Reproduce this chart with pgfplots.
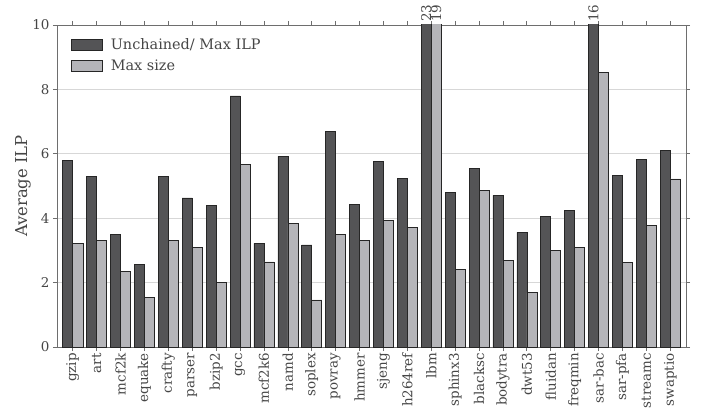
\documentclass[border=0pt]{standalone}
\usepackage{fontspec}
\setmainfont{DejaVu Serif}
\usepackage{pgfplots}
\pgfplotsset{compat=1.18}
\definecolor{darkbar}{RGB}{84,84,86}
\definecolor{lightbar}{RGB}{181,181,185}
\definecolor{axgray}{RGB}{110,110,110}
\definecolor{gridgray}{RGB}{215,215,215}
\definecolor{txtgray}{RGB}{70,70,70}
\begin{document}
\begin{tikzpicture}[font=\fontsize{13.5}{15}\selectfont]
\begin{axis}[
  scale only axis, width=629bp, height=322bp,
  xmin=-0.66, xmax=25.66, ymin=0, ymax=10,
  xtick={0,...,25},
  xticklabels={gzip,art,mcf2k,equake,crafty,parser,bzip2,gcc,mcf2k6,namd,soplex,povray,hmmer,sjeng,h264ref,lbm,sphinx3,blacksc,bodytra,dwt53,fluidan,freqmin,sar-bac,sar-pfa,streamc,swaptio},
  xticklabel style={rotate=90, anchor=east, text=txtgray, inner sep=2bp},
  yticklabel style={text=txtgray},
  ytick={0,2,4,6,8,10},
  ymajorgrids, grid style={gridgray, line width=0.8bp},
  axis line style={axgray, line width=0.8bp},
  tick style={axgray, line width=0.7bp},
  tick align=outside, major tick length=4bp,
  ylabel={Average ILP},
  every axis y label/.style={at={(rel axis cs:0,0.5)}, xshift=-34bp, rotate=90, anchor=center, text=txtgray, font=\fontsize{16.5}{18}\selectfont},
  clip mode=individual,
  /pgf/number format/assume math mode=true,
  legend style={at={(0,1)}, anchor=north west, xshift=11bp, yshift=-9bp, draw=none, fill=none, text=txtgray, row sep=5bp, font=\fontsize{14.5}{16}\selectfont},
  legend cell align=left,
  legend image code/.code={\draw[#1] (0bp,-5.5bp) rectangle (31bp,5.5bp); \path (37bp,0);},
]
\addplot[ybar, bar width=0.42, bar shift=-0.21, fill=darkbar, draw=black!85, line width=0.6bp] coordinates {
(0,5.80) (1,5.30) (2,3.50) (3,2.57) (4,5.30) (5,4.63) (6,4.40) (7,7.80) (8,3.22) (9,5.92) (10,3.17) (11,6.70) (12,4.42) (13,5.77) (14,5.24) (15,23) (16,4.80) (17,5.55) (18,4.71) (19,3.56) (20,4.06) (21,4.25) (22,16) (23,5.32) (24,5.82) (25,6.10)};
\addlegendentry{Unchained/ Max ILP}
\addplot[ybar, bar width=0.42, bar shift=0.21, fill=lightbar, draw=black!85, line width=0.6bp] coordinates {
(0,3.22) (1,3.32) (2,2.34) (3,1.54) (4,3.32) (5,3.10) (6,2.01) (7,5.68) (8,2.64) (9,3.85) (10,1.46) (11,3.49) (12,3.32) (13,3.92) (14,3.72) (15,19) (16,2.41) (17,4.87) (18,2.68) (19,1.69) (20,3.00) (21,3.10) (22,8.53) (23,2.62) (24,3.77) (25,5.22)};
\addlegendentry{Max size}
\node[rotate=90, anchor=west, inner sep=3bp, text=txtgray] at (axis cs:14.79,10) {23};
\node[rotate=90, anchor=west, inner sep=3bp, text=txtgray] at (axis cs:15.21,10) {19};
\node[rotate=90, anchor=west, inner sep=3bp, text=txtgray] at (axis cs:21.79,10) {16};
\coordinate (ll) at (rel axis cs:0,0);
\coordinate (ur) at (rel axis cs:1,1);
\end{axis}
\pgfresetboundingbox
\path[use as bounding box] ([shift={(-57bp,-71bp)}]ll) rectangle ([shift={(16bp,25bp)}]ur);
\end{tikzpicture}
\end{document}
